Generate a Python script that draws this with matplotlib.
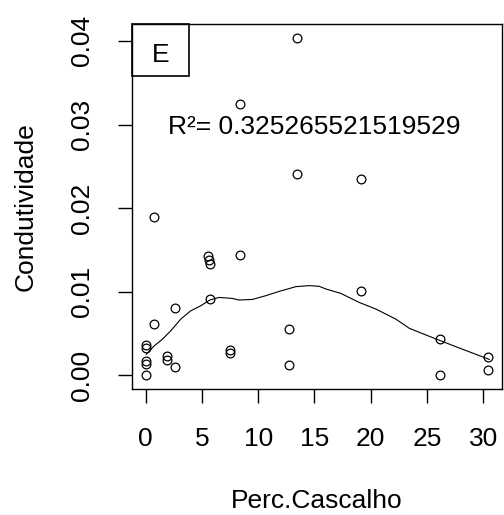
import matplotlib
matplotlib.use("Agg")
import matplotlib.pyplot as plt
from matplotlib.patches import Rectangle
import numpy as np

# pontos
perc_cascalho = [13.49, 8.36, 13.49, 19.18, 0.74, 5.57, 5.63, 5.72, 8.36, 5.72,
                 19.18, 2.63, 0.74, 12.72, 26.18, 0.0, 0.0, 0.0, 0.0, 0.0,
                 1.9, 1.9, 2.63, 7.5, 7.5, 12.72, 26.18, 30.45, 30.45]
condutividade = [0.0404, 0.0325, 0.0241, 0.0235, 0.0190, 0.01423, 0.01386, 0.01327, 0.01443, 0.00914,
                 0.0101, 0.0081, 0.0061, 0.00553, 0.00437, 0.00361, 0.00325, 0.00172, 0.0014, 0.0,
                 0.00232, 0.00184, 0.00103, 0.0030, 0.00265, 0.0012, 0.0, 0.0022, 0.0006]

# curva loess
loess_x = [0.05, 0.74, 1.48, 2.22, 3.11, 4.0, 4.89, 5.69, 6.52, 7.7, 8.3, 9.48, 10.68,
           11.86, 13.35, 14.53, 15.42, 16.01, 17.35, 18.98, 20.46, 22.24, 23.42, 24.61,
           26.25, 28.17, 30.54]
loess_y = [0.00253, 0.00352, 0.00433, 0.00533, 0.00673, 0.00773, 0.00833, 0.00902, 0.00933,
           0.00921, 0.00902, 0.00909, 0.00954, 0.01005, 0.01062, 0.01074, 0.01066, 0.01034,
           0.00981, 0.00873, 0.00794, 0.00673, 0.00565, 0.005, 0.00413, 0.00313, 0.00192]

x_ticks = [0, 5, 10, 15, 20, 25, 30]
y_ticks = [0.00, 0.01, 0.02, 0.03, 0.04]
y_tick_labels = ["0.00", "0.01", "0.02", "0.03", "0.04"]
r2_text = "R\u00b2= 0.325265521519529"
painel = "E"

plt.rcParams['font.family'] = ['Liberation Sans', 'DejaVu Sans']
fs = 19

W, H = 504, 515
fig = plt.figure(figsize=(W / 100, H / 100), dpi=100)
ax = fig.add_axes([132 / W, 1 - 389 / H, 370 / W, 365 / H])

ax.plot(perc_cascalho, condutividade, 'o', mfc='none', mec='black', ms=6.3, mew=0.9)
ax.plot(loess_x, loess_y, color='black', lw=0.8)

# limites como no R (4% a mais)
x = np.array(perc_cascalho)
y = np.array(condutividade)
dx = (x.max() - x.min()) * 0.04
dy = (y.max() - y.min()) * 0.04
ax.set_xlim(x.min() - dx, x.max() + dx)
ax.set_ylim(y.min() - dy, y.max() + dy)

ax.set_xticks(x_ticks)
ax.set_xticklabels([str(v) for v in x_ticks])
ax.set_yticks(y_ticks)
ax.set_yticklabels(y_tick_labels, rotation=90, va='center')
ax.tick_params(direction='out', length=10, width=1.0, pad=17, labelsize=fs, colors='black')
for s in ax.spines.values():
    s.set_linewidth(1.0)

ax.text(15, 0.03, r2_text, ha='center', va='center_baseline', fontsize=fs, color='black')

# caixa do painel
bw, bh = 57 / 370, 52 / 365
ax.add_patch(Rectangle((0, 1 - bh), bw, bh, transform=ax.transAxes, fill=False,
                       lw=1.2, edgecolor='black', clip_on=False, zorder=5))
ax.text(bw / 2, 1 - (61.5 - 24) / 365, painel, transform=ax.transAxes, ha='center',
        va='baseline', fontsize=fs)

fig.text(317 / W, 1 - 508 / H, "Perc.Cascalho", ha='center', va='baseline', fontsize=fs)
fig.text(33 / W, 1 - 206.5 / H, "Condutividade", rotation=90, rotation_mode='anchor',
         ha='center', va='baseline', fontsize=fs)

fig.savefig("out.png", dpi=100)
